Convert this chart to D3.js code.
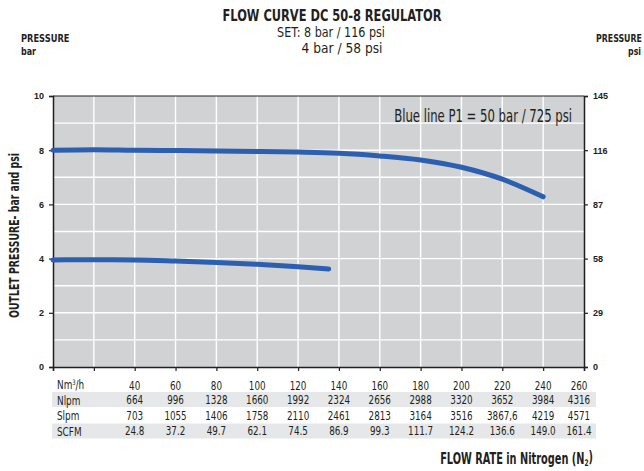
<!DOCTYPE html>
<html><head><meta charset="utf-8">
<script src="https://cdn.jsdelivr.net/npm/d3@7"></script>
<style>
body{margin:0;background:#fff;}
svg{display:block;}
.n{font-family:"Liberation Sans Narrow","DejaVu Sans Condensed",sans-serif;}
.t{font-family:"Liberation Sans","Arial",sans-serif;font-weight:bold;font-size:9px;fill:#222;}
</style></head><body>
<svg id="c" width="644" height="471"></svg>
<script>
// ---- data ----
const flowTicks = [20,40,60,80,100,120,140,160,180,200,220,240,260];
const tableCols = [40,60,80,100,120,140,160,180,200,220,240,260];
const rowLabels = ["Nm³/h","Nlpm","Slpm","SCFM"];
const nlpm = ["664","996","1328","1660","1992","2324","2656","2988","3320","3652","3984","4316"];
const slpm = ["703","1055","1406","1758","2110","2461","2813","3164","3516","3867,6","4219","4571"];
const scfm = ["24.8","37.2","49.7","62.1","74.5","86.9","99.3","111.7","124.2","136.6","149.0","161.4"];
const barTicks = [0,2,4,6,8,10];
const psiTicks = [0,29,58,87,116,145];
// curve set 8 bar
const flow8 = [0,20,40,60,80,100,120,140,160,180,200,220,240];
const p8    = [8.0,8.02,8.0,7.99,7.97,7.95,7.93,7.89,7.79,7.64,7.37,6.93,6.28];
// curve set 4 bar
const flow4 = [0,20,40,60,80,100,120,135];
const p4    = [3.95,3.96,3.95,3.91,3.86,3.79,3.70,3.62];

const svg = d3.select("#c");
const L=53, R=584, T=96, B=367;
const x = d3.scaleLinear().domain([0,260]).range([L,R]);
const y = d3.scaleLinear().domain([0,10]).range([B,T]);
const yPsi = d3.scaleLinear().domain([0,145]).range([B,T]);

function scaleX(sel, k){
  const ax = +sel.attr("x") || 0;
  sel.attr("transform",`translate(${ax},0) scale(${k},1) translate(${-ax},0)`);
  return sel;
}
function fitW(sel, w){
  const len = sel.node().getComputedTextLength();
  return scaleX(sel, w/len);
}
function txt(x0,y0,s,size,opts={}){
  const t = svg.append("text").attr("class","n").attr("x",x0).attr("y",y0)
    .attr("font-size",size).attr("fill","#231f20").text(s);
  if(opts.anchor) t.attr("text-anchor",opts.anchor);
  if(opts.bold) t.attr("font-weight","bold");
  return t;
}

// titles
fitW(txt(332,21,"FLOW CURVE DC 50-8 REGULATOR",16,{anchor:"middle",bold:true}),219);
fitW(txt(331,37,"SET: 8 bar / 116 psi",14.5,{anchor:"middle"}),108);
fitW(txt(342,53,"4 bar / 58 psi",14.5,{anchor:"middle"}),81);
fitW(txt(21,42,"PRESSURE",11,{bold:true}),48.5);
fitW(txt(21,55,"bar",11,{bold:true}),15);
fitW(txt(596,42,"PRESSURE",11,{bold:true}),46);
fitW(txt(641,55,"psi",11,{anchor:"end",bold:true}),13);

// plot bg
svg.append("rect").attr("x",L).attr("y",T).attr("width",R-L).attr("height",B-T).attr("fill","#d1d2d4");
// grid
const g = svg.append("g");
g.selectAll(".hg").data(d3.range(1,10)).join("line").attr("x1",L).attr("x2",R)
  .attr("y1",d=>y(d)).attr("y2",d=>y(d)).attr("stroke","#fff").attr("stroke-width",1.4);
g.selectAll(".vg").data(flowTicks.slice(0,-1)).join("line").attr("y1",T).attr("y2",B)
  .attr("x1",d=>x(d)).attr("x2",d=>x(d)).attr("stroke","#fff").attr("stroke-width",1.4);
svg.append("line").attr("x1",L).attr("x2",R).attr("y1",T).attr("y2",T).attr("stroke","#231f20").attr("stroke-width",1.2);

// axes
const ax = svg.append("g").attr("transform",`translate(0,${B})`)
  .call(d3.axisBottom(x).tickValues([0].concat(flowTicks)).tickSize(4).tickFormat(""));
const ay = svg.append("g").attr("transform",`translate(${L},0)`)
  .call(d3.axisLeft(y).tickValues(barTicks).tickSize(4).tickPadding(5));
const ay2 = svg.append("g").attr("transform",`translate(${R},0)`)
  .call(d3.axisRight(yPsi).tickValues(psiTicks).tickSize(4).tickPadding(5));
[ax,ay,ay2].forEach(a=>{
  a.select(".domain").attr("stroke","#231f20").attr("stroke-width",1.5);
  a.selectAll(".tick line").attr("stroke","#231f20").attr("stroke-width",1.2);
  a.selectAll(".tick text").attr("class","t").attr("font-family",null).attr("font-size",null);
});

// curves
const line = d3.line().curve(d3.curveMonotoneX).x(d=>x(d[0])).y(d=>y(d[1]));
svg.append("path").datum(d3.zip(flow8,p8)).attr("d",line).attr("fill","none")
  .attr("stroke","#2c5faf").attr("stroke-width",5).attr("stroke-linecap","round");
svg.append("path").datum(d3.zip(flow4,p4)).attr("d",line).attr("fill","none")
  .attr("stroke","#2c5faf").attr("stroke-width",5).attr("stroke-linecap","round");

// annotation
fitW(txt(572,122,"Blue line P1 = 50 bar / 725 psi",17,{anchor:"end"}),178);

// y title
const yt = svg.append("text").attr("class","n").attr("x",0).attr("y",0)
  .attr("text-anchor","middle").attr("font-size",14).attr("font-weight","bold").attr("fill","#231f20")
  .text("OUTLET PRESSURE- bar and psi");
{ const len = yt.node().getComputedTextLength();
  yt.attr("transform",`translate(18.5,235.5) rotate(-90) scale(${165/len},1)`); }

// table
const rowsY = [384,400,415.5,431];
svg.append("rect").attr("x",52).attr("y",392).attr("width",544).attr("height",15).attr("fill","#e6e7e8");
svg.append("rect").attr("x",52).attr("y",423.5).attr("width",544).attr("height",15).attr("fill","#e6e7e8");
const rowData = [tableCols.map(String), nlpm, slpm, scfm];
rowLabels.forEach((lab,i)=>{
  const tt = svg.append("text").attr("class","n").attr("x",57).attr("y",rowsY[i]).attr("dy","0.35em")
    .attr("font-size",13).attr("fill","#231f20");
  if(i===0){ tt.text("Nm"); tt.append("tspan").attr("font-size",7.5).attr("dy","-0.5em").text("3");
    tt.append("tspan").attr("dy","0.33em").attr("font-size",13).text("/h"); }
  else tt.text(lab);
  scaleX(tt,0.76);
  svg.selectAll(null).data(rowData[i]).join("text").attr("class","n")
    .attr("x",(d,j)=>x(tableCols[j]) - (j===tableCols.length-1?5:0)).attr("y",rowsY[i]+ (i===0?2:0)).attr("dy","0.35em")
    .attr("text-anchor","middle").attr("font-size",12.5).attr("fill","#231f20").text(d=>d)
    .each(function(){ scaleX(d3.select(this),0.78); });
});

// x title
const xt = txt(593,464,"FLOW RATE in Nitrogen (N",15,{anchor:"end",bold:true});
xt.append("tspan").attr("font-size",9).attr("dy","0.25em").text("2");
xt.append("tspan").attr("dy","-0.25em").text(")");
{ const w = xt.node().getBBox().width; scaleX(xt, 153/w); }
</script></body></html>
